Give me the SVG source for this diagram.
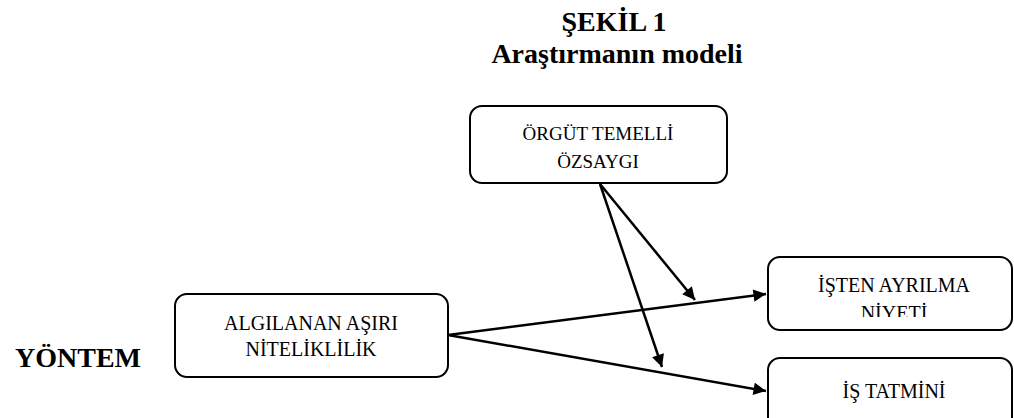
<svg xmlns="http://www.w3.org/2000/svg" width="1014" height="418" viewBox="0 0 1014 418">
<style>
.box{fill:#fff;stroke:#000;stroke-width:2}
.t{font-family:"Liberation Serif","Times New Roman",serif;font-size:20px;fill:#000;text-anchor:middle}
.h{font-family:"Liberation Serif","Times New Roman",serif;font-weight:bold;fill:#000}
.c{stroke:#000;stroke-width:2.5;fill:none}
</style>
<defs>
<marker id="ah" viewBox="0 0 10 10" refX="10" refY="5" markerWidth="6" markerHeight="5" markerUnits="strokeWidth" orient="auto">
<path d="M0,0 L10,5 L0,10 z" fill="#000"/>
</marker>
<clipPath id="clipN"><rect x="768" y="250" width="246" height="67"/></clipPath>
</defs>
<rect width="1014" height="418" fill="#fff"/>
<text class="h" x="614" y="31" font-size="28" text-anchor="middle">ŞEKİL 1</text>
<text class="h" x="617" y="63" font-size="28" text-anchor="middle">Araştırmanın modeli</text>
<text class="h" x="15" y="367" font-size="28">YÖNTEM</text>
<g id="node-ozsaygi">
<rect class="box" x="470" y="106" width="257" height="77" rx="12"/>
<text class="t" x="598" y="140" style="font-size:19px">ÖRGÜT TEMELLİ</text>
<text class="t" x="598" y="168" style="font-size:19px">ÖZSAYGI</text>
</g>
<g id="node-nitelik">
<rect class="box" x="175" y="294" width="273" height="83" rx="12"/>
<text class="t" x="311" y="330">ALGILANAN AŞIRI</text>
<text class="t" x="311" y="356">NİTELİKLİLİK</text>
</g>
<g id="node-ayrilma">
<rect class="box" x="768" y="257" width="244" height="73" rx="12"/>
<text class="t" x="894" y="292">İŞTEN AYRILMA</text>
<text class="t" x="894" y="320" clip-path="url(#clipN)">NİYETİ</text>
</g>
<g id="node-tatmin">
<rect class="box" x="768" y="358" width="244" height="80" rx="12"/>
<text class="t" x="894" y="398">İŞ TATMİNİ</text>
</g>
<g id="connectors">
<line class="c" x1="448" y1="335" x2="766" y2="294" marker-end="url(#ah)"/>
<line class="c" x1="448" y1="335" x2="766" y2="391" marker-end="url(#ah)"/>
<line class="c" x1="600" y1="184" x2="695" y2="300" marker-end="url(#ah)"/>
<line class="c" x1="600" y1="184" x2="662" y2="367" marker-end="url(#ah)"/>
</g>
</svg>
